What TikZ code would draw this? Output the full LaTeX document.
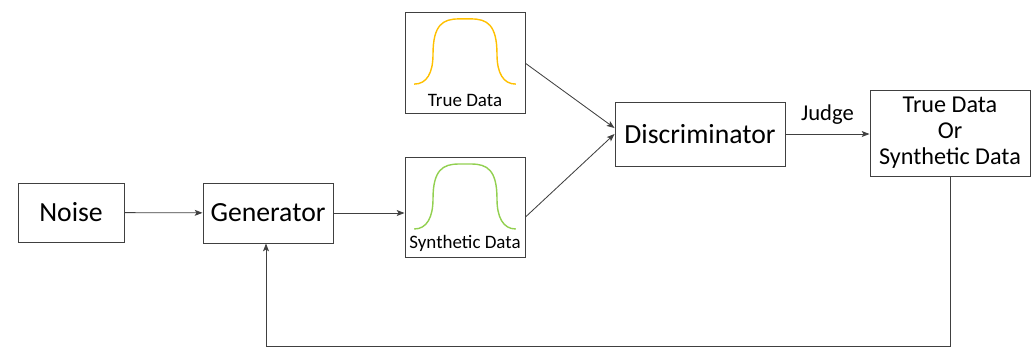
\documentclass[tikz,border=0pt]{standalone}
\usepackage{fontspec}
\setmainfont{Carlito}
\usepackage{tikz}
\usetikzlibrary{arrows.meta}

\definecolor{truecol}{HTML}{FFC000}
\definecolor{fakecol}{HTML}{92D050}
\definecolor{linecol}{HTML}{404040}

\tikzset{
  block/.style={draw=linecol, line width=0.7pt, inner sep=0pt},
  flow/.style={draw=linecol, line width=0.6pt, -{Stealth[length=5.5pt, width=4.2pt, inset=1.2pt]}},
  bigtext/.style={font=\fontsize{19.7}{23}\selectfont},
  smalltext/.style={font=\fontsize{13.5}{16}\selectfont},
  bell/.style={line width=1pt}
}

\begin{document}
\begin{tikzpicture}
\useasboundingbox (0,0) rectangle (25.85,-8.675);

\node[block, bigtext, minimum width=2.65cm, minimum height=1.475cm] (noise) at (1.775,-5.3125) {Noise};
\node[block, bigtext, minimum width=3.25cm, minimum height=1.5cm] (gen) at (6.7,-5.325) {Generator};
\node[
      block,
      minimum width=3cm,
      minimum height=2.525cm,
      label={[name=truelbl, smalltext, anchor=south, yshift=1.5pt]south:True Data}%< -- text sits at the bottom, inside
] (truebox) at (11.625,-1.5625) {};
\node[
      block,
      minimum width=3cm,
      minimum height=2.5cm,
      label={[name=fakelbl, smalltext, anchor=south, yshift=1pt]south:Synthetic Data}
] (fakebox) at (11.625,-5.175) {};
\node[block, bigtext, minimum width=4.25cm, minimum height=1.6cm] (disc) at (17.5,-3.35) {Discriminator};
\node[block, align=center, font=\fontsize{17.2}{18.5}\selectfont,
      minimum width=4cm, minimum height=2.15cm] (result) at (23.75,-3.325) {True Data\\Or\\Synthetic Data};

% bell curves
\draw[bell, truecol, shift={(truebox.center)}]
  (-1.27,-0.54) .. controls (-0.95,-0.54) and (-0.8,-0.25) .. (-0.8,0.2)
  .. controls (-0.8,0.95) and (-0.55,1.09) .. (-0.15,1.09) -- (0.15,1.09)
  .. controls (0.55,1.09) and (0.8,0.95) .. (0.8,0.2)
  .. controls (0.8,-0.25) and (0.95,-0.54) .. (1.27,-0.54);
\draw[bell, fakecol, shift={(fakebox.center)}]
  (-1.27,-0.55) .. controls (-0.95,-0.55) and (-0.8,-0.25) .. (-0.8,0.2)
  .. controls (-0.8,0.935) and (-0.55,1.075) .. (-0.15,1.075) -- (0.15,1.075)
  .. controls (0.55,1.075) and (0.8,0.935) .. (0.8,0.2)
  .. controls (0.8,-0.25) and (0.95,-0.55) .. (1.27,-0.55);

% connectors
\draw[flow] (noise) -- (gen);
\draw[flow] (gen) -- (gen -| fakebox.west);
\draw[flow] ([yshift=-0.02cm]truebox.east) -- ([yshift=0.15cm]disc.west);
\draw[flow] ([yshift=-0.25cm]fakebox.east) -- (disc.west);
\draw[flow] (disc) -- node[above=3pt, font=\fontsize{16.1}{18}\selectfont] (judge) {Judge} (disc -| result.west);

\coordinate (back) at (23.75,-8.65);
\draw[flow] (result.south) -- (back) -| ([xshift=-0.05cm]gen.south);
\end{tikzpicture}
\end{document}
